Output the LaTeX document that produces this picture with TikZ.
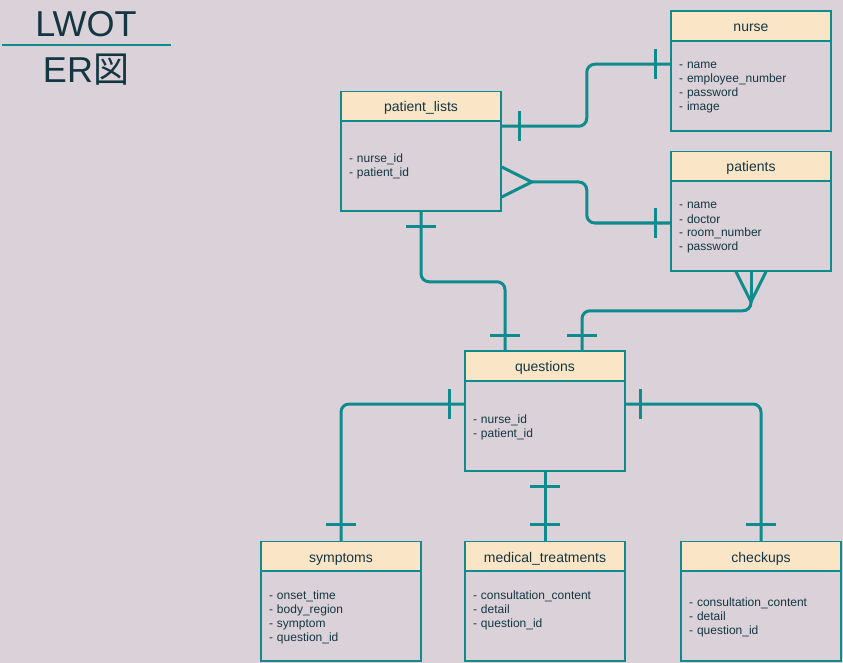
\documentclass[tikz,border=0pt]{standalone}
\usepackage{fontspec}
\setmainfont{Liberation Sans}
\newfontfamily\cjkfont{Noto Sans CJK JP}
\definecolor{bgcol}{HTML}{DAD2D8}
\definecolor{headcol}{HTML}{FAE5C7}
\definecolor{linecol}{HTML}{0F8B8D}
\definecolor{textcol}{HTML}{143642}
\newcommand{\fieldstrut}{\rule[-3pt]{0pt}{14pt}}
\tikzstyle{head}=[rectangle,draw=linecol,line width=1.5pt,fill=headcol,minimum width=160pt,minimum height=30pt,inner sep=0pt,text height=14pt,text depth=3pt,text=textcol,font=\fontsize{14}{16}\selectfont]
\tikzstyle{attrs}=[rectangle,draw=linecol,line width=1.5pt,minimum width=160pt,minimum height=90pt,text width=144pt,inner xsep=8pt,inner ysep=0pt,align=left,text=textcol,font=\fontsize{12}{14}\selectfont,execute at begin node=\fieldstrut,execute at end node=\fieldstrut]
\tikzstyle{title}=[text=textcol,font=\fontsize{36}{36}\selectfont,anchor=base]
\tikzstyle{rel}=[draw=linecol,line width=3pt,rounded corners=8pt]

\begin{document}
\begin{tikzpicture}[x=1pt,y=-1pt]
\fill[bgcol] (0,0) rectangle (843,663);
\useasboundingbox (0,0) rectangle (843,663);
\node[title] at (86,36.5) (lwot) {LWOT};
\node[title] at (86,82.5) (er) {ER{\cjkfont 図}};
\draw[linecol,line width=2pt] (2,45.5) -- (171,45.5);
\node[head] at (751,26) (nurse) {nurse};
\node[attrs] at (751,86) (nursebody) {- name\\- employee\_number\\- password\\- image};
\node[head] at (751,166.5) (patients) {patients};
\node[attrs] at (751,226) (patientsbody) {- name\\- doctor\\- room\_number\\- password};
\node[head] at (421,106.5) (plists) {patient\_lists};
\node[attrs] at (421,166) (plbody) {- nurse\_id\\- patient\_id};
\node[head] at (545,366) (questions) {questions};
\node[attrs] at (545,426) (qbody) {- nurse\_id\\- patient\_id};
\node[head] at (341,556.5) (symptoms) {symptoms};
\node[attrs] at (341,616) (sbody) {- onset\_time\\- body\_region\\- symptom\\- question\_id};
\node[head] at (545,556.5) (treatments) {medical\_treatments};
\node[attrs] at (545,616) (tbody) {- consultation\_content\\- detail\\- question\_id\\\mbox{}};
\node[head] at (761,556.5) (checkups) {checkups};
\node[attrs] at (761,616) (cbody) {- consultation\_content\\- detail\\- question\_id};
% nurse -- patient_lists
\coordinate (a1) at ([yshift=-6pt]plbody.north east);
\coordinate (a2) at ([yshift=-24pt]nursebody.north west);
\draw[rel] (a1) -- ++(85,0) |- (a2);
\draw[rel] (a1) ++(18,-15) -- ++(0,30);
\draw[rel] (a2) ++(-15,-15) -- ++(0,30);
% patient_lists -- patients
\coordinate (b1) at ([xshift=30pt,yshift=-16pt]plbody.east);
\coordinate (b2) at ([yshift=3pt]patientsbody.west);
\draw[rel] (b1) -- ++(55,0) |- (b2);
\draw[rel,sharp corners] (b1) ++(-30,-15) -- (b1) -- ++(-30,15);
\draw[rel] (b2) ++(-15,-15) -- ++(0,30);
% patients -- questions
\coordinate (c1) at ([yshift=-30pt]patientsbody.south);
\coordinate (c2) at ([xshift=37pt]questions.north);
\draw[rel] (c1) -- ++(0,9) -| (c2);
\draw[rel,sharp corners] (c1) ++(-15,-30) -- (c1) -- ++(15,-30);
\draw[rel] (c1) -- (patientsbody.south);
\draw[rel] (c2) ++(-15,-15) -- ++(30,0);
% patient_lists -- questions
\coordinate (d1) at ([xshift=-40pt]questions.north);
\draw[rel] (plbody.south) -- ++(0,70) -| (d1);
\draw[rel] (plbody.south) ++(-15,15) -- ++(30,0);
\draw[rel] (d1) ++(-15,-15) -- ++(30,0);
% questions -- symptoms
\coordinate (e1) at ([yshift=22pt]qbody.west);
\draw[rel] (e1) -| (symptoms.north);
\draw[rel] (e1) ++(-15,-15) -- ++(0,30);
\draw[rel] (symptoms.north) ++(-15,-16) -- ++(30,0);
% questions -- checkups
\coordinate (f1) at ([yshift=22pt]qbody.east);
\draw[rel] (f1) -| (checkups.north);
\draw[rel] (f1) ++(15,-15) -- ++(0,30);
\draw[rel] (checkups.north) ++(-15,-16) -- ++(30,0);
% questions -- medical_treatments
\draw[rel] (qbody.south) -- (treatments.north);
\draw[rel] (qbody.south) ++(-15,15) -- ++(30,0);
\draw[rel] (treatments.north) ++(-15,-16) -- ++(30,0);
\end{tikzpicture}
\end{document}
